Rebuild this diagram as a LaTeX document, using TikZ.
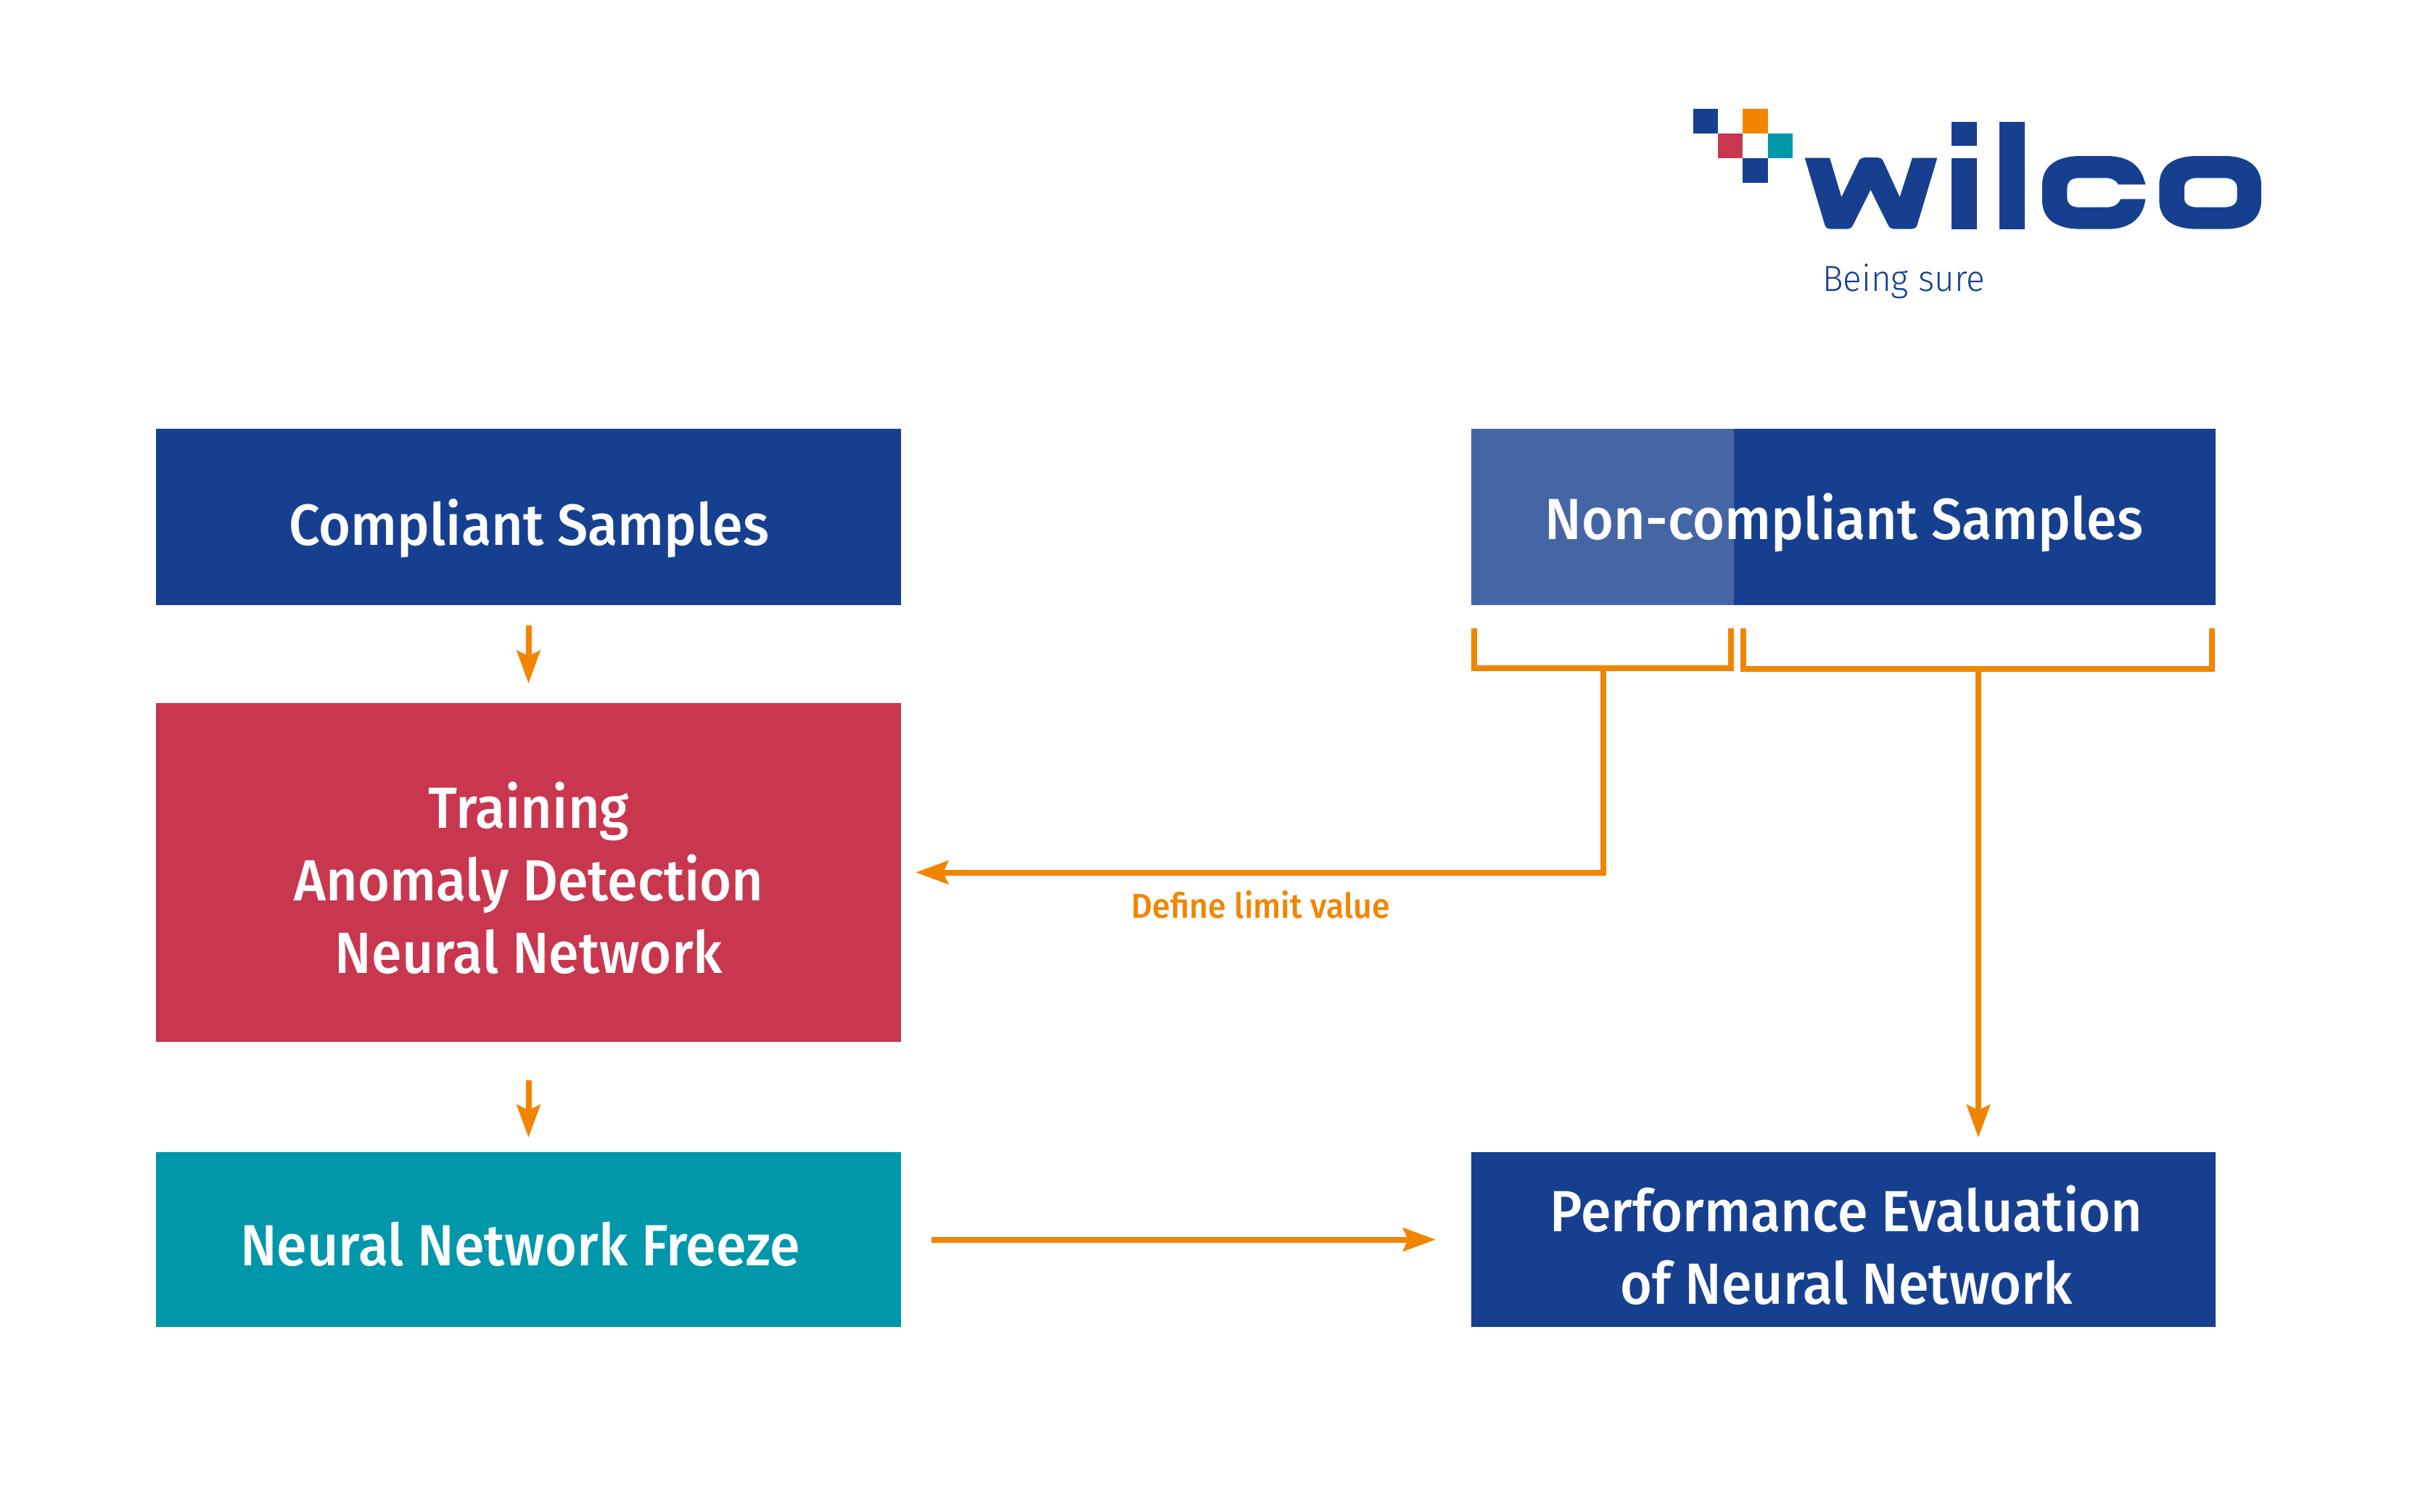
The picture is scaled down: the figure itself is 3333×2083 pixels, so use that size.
\documentclass[tikz,border=0pt]{standalone}
\usepackage{fontspec}
\usetikzlibrary{arrows.meta}
\setmainfont{Fira Sans Medium}[FakeStretch=0.943]
\newfontfamily\lightfont{Fira Sans Light}[FakeStretch=0.955]
\definecolor{wnavy}{HTML}{16408F}
\definecolor{wlight}{HTML}{4566A5}
\definecolor{wred}{HTML}{C8374E}
\definecolor{wteal}{HTML}{0097AA}
\definecolor{worange}{HTML}{F28500}
\tikzset{
  box/.style={anchor=north west,inner sep=0pt,outer sep=0pt,minimum width=1027*0.3pt},
  lab/.style={text=white,font=\fontsize{24}{24}\selectfont,anchor=base,inner sep=0pt},
  conn/.style={draw=worange,line width=2.4pt,-{Stealth[length=13.5pt,width=9.6pt,inset=2.1pt]}},
  brack/.style={draw=worange,line width=2.4pt},
}
\begin{document}
\begin{tikzpicture}[x=0.3pt,y=-0.3pt]
\useasboundingbox (0,0) rectangle (3333,2083);
% boxes
\node[box,fill=wnavy,minimum height=243*0.3pt] (comp) at (215,591) {};
\node[box,fill=wred,minimum height=467*0.3pt] (train) at (215,969) {};
\node[box,fill=wteal,minimum height=241*0.3pt] (freeze) at (215,1588) {};
\node[box,fill=wnavy,minimum width=1026*0.3pt,minimum height=243*0.3pt] (non) at (2028,591) {};
\node[box,fill=wlight,minimum width=362*0.3pt,minimum height=243*0.3pt] (nonpart) at (2028,591) {};
\node[box,fill=wnavy,minimum width=1026*0.3pt,minimum height=241*0.3pt] (perf) at (2028,1588) {};
% labels
\node[lab] (tcomp) at (729,751) {Compliant Samples};
\node[lab] (tnon) at (2542,743) {Non-compliant Samples};
\node[lab] (ttr1) at (729,1141) {Training};
\node[lab] (ttr2) at (729,1241) {Anomaly Detection};
\node[lab] (ttr3) at (729,1341) {Neural Network};
\node[lab] (tfr) at (717,1744) {Neural Network Freeze};
\node[lab] (tpe1) at (2545,1697) {Performance Evaluation};
\node[lab] (tpe2) at (2545,1797) {of Neural Network};
\node[text=worange,font=\fontsize{14.3}{14.3}\selectfont,anchor=base,inner sep=0pt] (tdef) at (1738,1265) {Define limit value};
% brackets
\coordinate (b1a) at (2032,866);
\coordinate (b1b) at (2032,921);
\coordinate (b1c) at (2386,921);
\coordinate (b1d) at (2386,866);
\coordinate (b2a) at (2403,866);
\coordinate (b2b) at (2403,922);
\coordinate (b2c) at (3049,922);
\coordinate (b2d) at (3049,866);
\coordinate (s1) at (2210,921);
\coordinate (s2) at (2727,922);
\draw[brack,line cap=butt,line join=miter] (b1a) -- (b1b) -- (b1c) -- (b1d);
\draw[brack,line cap=butt,line join=miter] (b2a) -- (b2b) -- (b2c) -- (b2d);
% connectors
\draw[conn,shorten <=8.4pt,shorten >=8.1pt] (comp.south) -- (train.north);
\draw[conn,shorten <=15.9pt,shorten >=6pt] (train.south) -- (freeze.north);
\draw[conn,shorten <=12.6pt,shorten >=14.7pt] (freeze.east|-perf.center) -- (perf.west);
\draw[conn,shorten >=6pt] (s2) -- (s2|-perf.north);
\draw[conn,shorten >=6pt] (s1) |- (train.east);
% logo
\fill[wnavy] (2334,150) rectangle (2368,184);
\fill[worange] (2402,150) rectangle (2437,184);
\fill[wred] (2368,184) rectangle (2402,218);
\fill[wteal] (2437,184) rectangle (2471,218);
\fill[wnavy] (2402,218) rectangle (2437,252);
\begin{scope}[shift={(2300,120)},x=0.17222pt,y=-0.1pt]
\fill[wnavy] (327,293) -- (387,293) -- (415,455) -- (457,305) .. controls (460,295) and (465,291) .. (475,291) -- (497,291) .. controls (507,291) and (512,295) .. (515,305) -- (555,455) -- (585,293) -- (645,293) -- (597,570) .. controls (595,582) and (590,587) .. (580,587) -- (545,587) .. controls (535,587) and (530,582) .. (527,570) -- (485,425) -- (443,570) .. controls (440,582) and (435,587) .. (425,587) -- (392,587) .. controls (382,587) and (377,582) .. (375,570) -- cycle;
\fill[wnavy] (679,293) rectangle (740,587);
\fill[wnavy] (679,144) rectangle (740,243);
\fill[wnavy] (794,144) rectangle (855,587);
\fill[wnavy] (1145,403) .. controls (1135,330) and (1110,285) .. (1050,285) -- (990,285) .. controls (925,285) and (897,335) .. (897,405) -- (897,467) .. controls (897,540) and (925,587) .. (990,587) -- (1055,587) .. controls (1115,587) and (1140,530) .. (1145,463) -- (1085,463) .. controls (1080,485) and (1070,497) .. (1050,497) -- (985,497) .. controls (965,497) and (957,480) .. (957,460) -- (957,415) .. controls (957,395) and (965,376) .. (985,376) -- (1050,376) .. controls (1065,376) and (1075,388) .. (1080,403) -- cycle;
\fill[wnavy,even odd rule] (1270,285) -- (1335,285) .. controls (1395,285) and (1423,335) .. (1423,405) -- (1423,467) .. controls (1423,540) and (1395,587) .. (1335,587) -- (1270,587) .. controls (1205,587) and (1178,540) .. (1178,467) -- (1178,405) .. controls (1178,335) and (1205,285) .. (1270,285) -- cycle
 (1268,376) -- (1335,376) .. controls (1355,376) and (1365,395) .. (1365,415) -- (1365,460) .. controls (1365,480) and (1355,497) .. (1335,497) -- (1268,497) .. controls (1248,497) and (1238,480) .. (1238,460) -- (1238,415) .. controls (1238,395) and (1248,376) .. (1268,376) -- cycle;
\end{scope}
\node[text=wnavy,font=\lightfont\fontsize{15}{15}\selectfont,anchor=base,inner sep=0pt] (tag) at (2624,402) {Being sure};
\end{tikzpicture}
\end{document}
